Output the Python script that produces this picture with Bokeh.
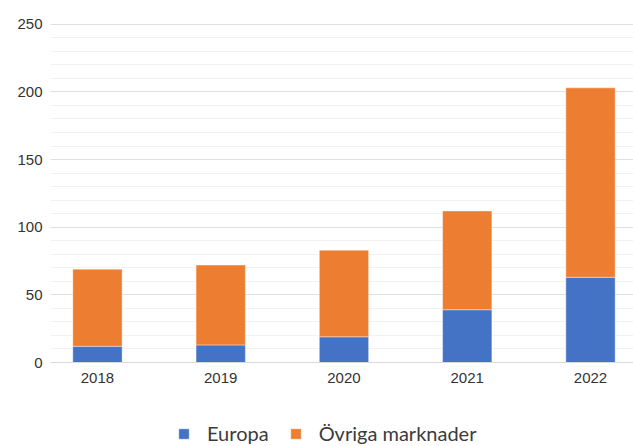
from bokeh.plotting import figure
from bokeh.layouts import column
from bokeh.models import Range1d, FixedTicker, SingleIntervalTicker, Legend, LegendItem, ColumnDataSource
from bokeh.embed import file_html
from bokeh.resources import INLINE

years = [2018, 2019, 2020, 2021, 2022]
year_labels = ["2018", "2019", "2020", "2021", "2022"]
europa = [12, 13, 19, 39, 63]
ovriga = [57, 59, 64, 73, 140]
series_names = ["Europa", "Övriga marknader"]
colors = ["#4472C4", "#ED7D31"]

src = ColumnDataSource(dict(x=years, europa=europa, ovriga=ovriga))

p = figure(width=633, height=400, output_backend="svg", toolbar_location=None,
           x_range=Range1d(2017.619, 2022.349), y_range=Range1d(0, 255),
           min_border_left=50, min_border_right=0, min_border_top=17, min_border_bottom=38)
p.outline_line_color = None

rs = p.vbar_stack(["europa", "ovriga"], x="x", width=0.4, source=src,
                  color=colors, line_color="white", line_alpha=0.4, line_width=1)

p.yaxis.ticker = SingleIntervalTicker(interval=50, num_minor_ticks=5)
p.ygrid.ticker = SingleIntervalTicker(interval=50, num_minor_ticks=5)
p.ygrid.grid_line_color = "#e0e0e0"
p.ygrid.minor_grid_line_color = "#f2f2f2"
p.xgrid.grid_line_color = None

p.yaxis.axis_line_color = None
p.yaxis.major_tick_line_color = None
p.yaxis.minor_tick_line_color = None
p.yaxis.major_label_standoff = 2
p.yaxis.major_label_text_font = "Liberation Sans"
p.yaxis.major_label_text_font_size = "15px"
p.yaxis.major_label_text_color = "#333333"

p.xaxis.ticker = FixedTicker(ticks=years)
p.xaxis.major_label_overrides = {y: l for y, l in zip(years, year_labels)}
p.xaxis.axis_line_color = "#d9d9d9"
p.xaxis.major_tick_line_color = None
p.xaxis.minor_tick_line_color = None
p.xaxis.major_label_standoff = 4
p.xaxis.major_label_text_font = "Liberation Sans"
p.xaxis.major_label_text_font_size = "15px"
p.xaxis.major_label_text_color = "#333333"

# legend strip (same stacked series, drawn outside its visible range so only the legend shows)
lf = figure(width=633, height=46, output_backend="svg", toolbar_location=None,
            x_range=Range1d(0, 1), y_range=Range1d(0, 1),
            x_axis_location=None, y_axis_location=None,
            min_border=0, min_border_left=0, min_border_right=0, min_border_top=0, min_border_bottom=0)
lf.outline_line_color = None
lf.xgrid.visible = False
lf.ygrid.visible = False
lrs = lf.vbar_stack(["europa", "ovriga"], x="x", width=0.4, source=src,
                    color=colors, line_color="white", line_alpha=0.4, line_width=1)
legend = Legend(items=[LegendItem(label=series_names[i], renderers=[lrs[i]]) for i in range(2)],
                orientation="horizontal", location=(127, 1),
                glyph_width=13, glyph_height=13, label_standoff=17, spacing=20,
                padding=0, margin=0, border_line_color=None, background_fill_alpha=0,
                label_text_font="Lato", label_text_font_size="20px", label_text_color="#3b3b3b")
lf.add_layout(legend, "center")

layout = column(p, lf, spacing=0)
open("out.html", "w").write(file_html(layout, INLINE))
